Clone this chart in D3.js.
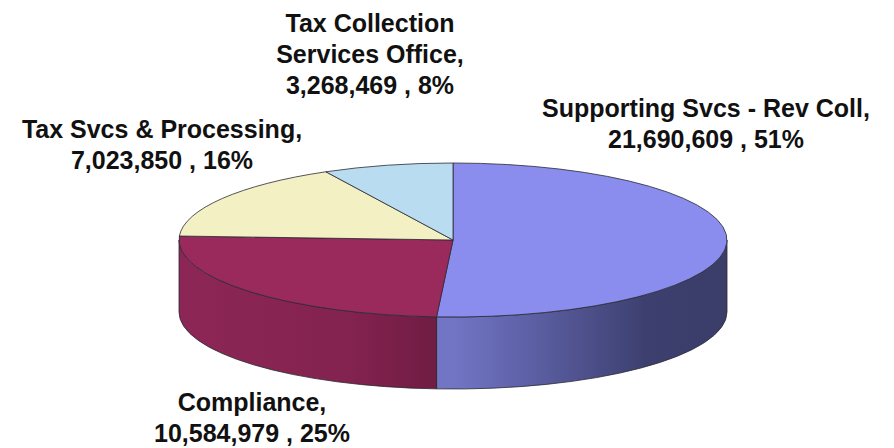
<!DOCTYPE html>
<meta charset="utf-8">
<style>
  body { margin: 0; background: #fff; }
  text { font-family: "Liberation Sans", Arial, sans-serif; font-weight: bold; fill: #111; }
</style>
<body>
<div id="chart"></div>
<script src="https://d3js.org/d3.v7.min.js"></script>
<script>
// ——— data, clockwise from 12 o'clock ———
const categories = ["Supporting Svcs - Rev Coll", "Compliance", "Tax Svcs & Processing", "Tax Collection Services Office"];
const values     = [21690609, 10584979, 7023850, 3268469];
const percents   = [51, 25, 16, 8];
const labelLines = [
  ["Supporting Svcs - Rev Coll,"],
  ["Compliance,"],
  ["Tax Svcs & Processing,"],
  ["Tax Collection", "Services Office,"]
];

// ——— layout ———
const W = 894, H = 448;
const cx = 453, cy = 240, rx = 274, ry = 77, depth = 72;
const topColors = ["#8a8cee", "#9b2a5c", "#f3f0c3", "#b9dcf0"];
// label anchor (centre x, first baseline y)
const labelAt = [[706, 117], [252, 411], [162, 138], [370, 32]];
const lineH = 31;

const svg = d3.select("#chart").append("svg")
    .attr("width", W)
    .attr("height", H);

const defs = svg.append("defs");
const sideGrads = [
  [["0%", "#7275c4"], ["25%", "#5f62a8"], ["70%", "#3d406f"], ["100%", "#3a3d68"]],
  [["0%", "#8c2656"], ["60%", "#84234f"], ["100%", "#6c1b41"]],
  [["0%", "#ccc9a0"], ["100%", "#ccc9a0"]],
  [["0%", "#9cbcd0"], ["100%", "#9cbcd0"]]
];
sideGrads.forEach((stops, i) => {
  const g = defs.append("linearGradient")
      .attr("id", "side" + i)
      .attr("gradientUnits", "userSpaceOnUse")
      .attr("x1", i === 1 ? cx - rx : cx).attr("x2", i === 1 ? cx : cx + rx)
      .attr("y1", 0).attr("y2", 0);
  g.selectAll("stop").data(stops).join("stop")
      .attr("offset", d => d[0])
      .attr("stop-color", d => d[1]);
});

const pie = d3.pie().sort(null).startAngle(0).endAngle(2 * Math.PI);
const arcs = pie(values);

// angle measured clockwise from 12 o'clock
const px = a => cx + rx * Math.sin(a);
const py = (a, dz = 0) => cy - ry * Math.cos(a) + dz;

// ——— side walls (only front half, PI/2 .. 3PI/2, is visible) ———
arcs.forEach((d, i) => {
  const a0 = Math.max(d.startAngle, Math.PI / 2);
  const a1 = Math.min(d.endAngle, 3 * Math.PI / 2);
  if (a1 <= a0) return;
  const large = (a1 - a0) > Math.PI ? 1 : 0;
  const p = `M${px(a0)},${py(a0)}`
    + `A${rx},${ry} 0 ${large} 1 ${px(a1)},${py(a1)}`
    + `L${px(a1)},${py(a1, depth)}`
    + `A${rx},${ry} 0 ${large} 0 ${px(a0)},${py(a0, depth)}Z`;
  svg.append("path")
      .attr("d", p)
      .attr("fill", `url(#side${i})`)
      .attr("stroke", "#2a2a33")
      .attr("stroke-width", 0.8)
      .attr("stroke-linejoin", "round");
});

// ——— top faces ———
svg.selectAll(".slice")
  .data(arcs)
  .join("path")
    .attr("class", "slice")
    .attr("d", d => {
      const large = (d.endAngle - d.startAngle) > Math.PI ? 1 : 0;
      return `M${cx},${cy}L${px(d.startAngle)},${py(d.startAngle)}`
        + `A${rx},${ry} 0 ${large} 1 ${px(d.endAngle)},${py(d.endAngle)}Z`;
    })
    .attr("fill", (d, i) => topColors[i])
    .attr("stroke", "#2a2a33")
    .attr("stroke-width", 0.8)
    .attr("stroke-linejoin", "round");

// ——— labels ———
const fmt = d3.format(",");
categories.forEach((c, i) => {
  const lines = labelLines[i].concat([`${fmt(values[i])} , ${percents[i]}%`]);
  const t = svg.append("text")
      .attr("text-anchor", "middle")
      .attr("font-size", 25);
  lines.forEach((s, j) => {
    t.append("tspan")
        .attr("x", labelAt[i][0])
        .attr("y", labelAt[i][1] + j * lineH)
        .text(s);
  });
});
</script>
</body>
